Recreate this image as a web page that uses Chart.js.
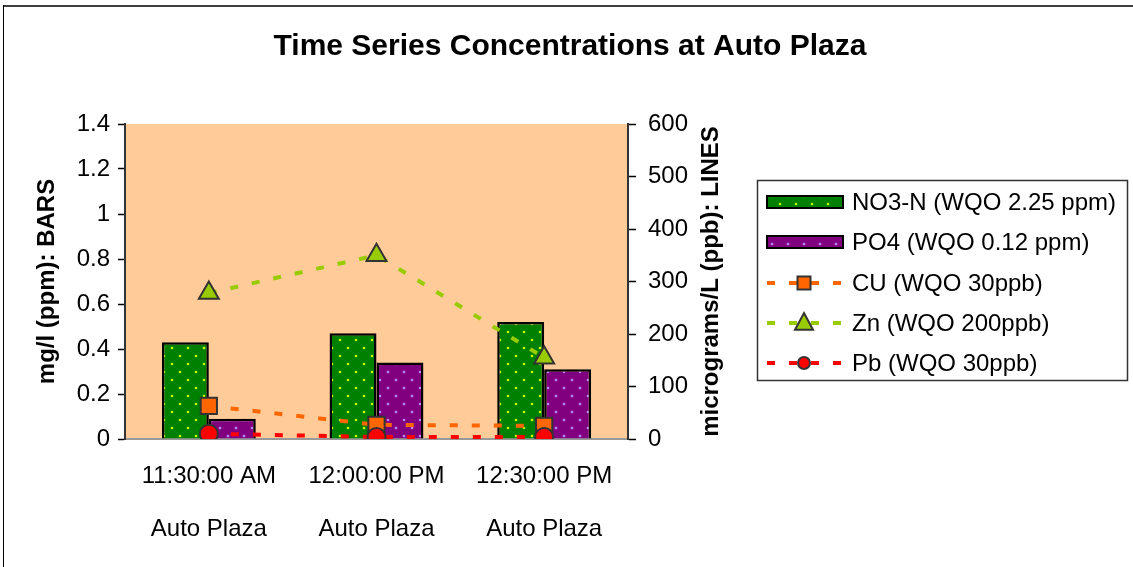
<!DOCTYPE html>
<html>
<head>
<meta charset="utf-8">
<script src="https://cdn.jsdelivr.net/npm/chart.js@4.4.1/dist/chart.umd.min.js"></script>
<style>
  body { margin: 0; background: #fff; }
  canvas { display: block; }
</style>
</head>
<body>
<canvas id="myChart" width="1133" height="567"></canvas>
<script>
var times = ['11:30:00 AM', '12:00:00 PM', '12:30:00 PM'];
var sites = ['Auto Plaza', 'Auto Plaza', 'Auto Plaza'];
var no3n = [0.43, 0.47, 0.52];
var po4 = [0.09, 0.34, 0.31];
var cu = [63, 27, 25];
var zn = [278, 350, 155];
var pb = [10, 4, 4];
var seriesNames = ['NO3-N (WQO 2.25 ppm)', 'PO4 (WQO 0.12 ppm)', 'CU (WQO 30ppb)', 'Zn (WQO 200ppb)', 'Pb (WQO 30ppb)'];
var ppmTicks = [0, 0.2, 0.4, 0.6, 0.8, 1, 1.2, 1.4];
var ppbTicks = [0, 100, 200, 300, 400, 500, 600];

var FONT = "'Liberation Sans', Arial, sans-serif";
var ctx = document.getElementById('myChart').getContext('2d');

// dotted fill like the excel pattern
function dotPattern(bg, dot) {
  var c = document.createElement('canvas');
  c.width = 16; c.height = 16;
  var g = c.getContext('2d');
  g.fillStyle = bg;
  g.fillRect(0, 0, 16, 16);
  g.fillStyle = dot;
  g.beginPath(); g.arc(4, 4, 1.3, 0, Math.PI * 2); g.fill();
  g.beginPath(); g.arc(12, 12, 1.3, 0, Math.PI * 2); g.fill();
  return ctx.createPattern(c, 'repeat');
}

var greenFill = dotPattern('#008000', '#ccff00');
var purpleFill = dotPattern('#800080', '#bb88ff');

var labels = [];
for (var i = 0; i < times.length; i++) {
  labels.push([times[i], sites[i]]);
}

function drawMarker(c, style, x, y, r, fill) {
  c.save();
  c.fillStyle = fill;
  c.strokeStyle = '#333';
  c.lineWidth = 2;
  c.beginPath();
  if (style == 'rect') {
    c.rect(x - r, y - r, 2 * r, 2 * r);
  } else if (style == 'triangle') {
    c.moveTo(x, y - r * 1.1);
    c.lineTo(x + r * 1.0, y + r * 0.75);
    c.lineTo(x - r * 1.0, y + r * 0.75);
    c.closePath();
  } else {
    c.arc(x, y, r, 0, Math.PI * 2);
  }
  c.fill();
  c.stroke();
  c.restore();
}

var decor = {
  id: 'decor',
  beforeDraw: function(chart) {
    var c = chart.ctx, a = chart.chartArea;
    c.save();
    c.fillStyle = '#ffcc99';
    c.fillRect(a.left, a.top, a.right - a.left, a.bottom - a.top);
    // outer frame (only top and left show)
    c.fillStyle = '#404040';
    c.fillRect(3, 5, 1130, 2);
    c.fillStyle = '#000';
    c.fillRect(3, 5, 1, 562);
    c.fillStyle = '#000';
    c.font = 'bold 30px ' + FONT;
    c.textAlign = 'center';
    c.textBaseline = 'middle';
    c.fillText('Time Series Concentrations at Auto Plaza', 570, 47);
    c.restore();
  },
  afterDraw: function(chart) {
    var c = chart.ctx, a = chart.chartArea;
    c.save();
    // right axis title reads bottom-up
    c.translate(711, (a.top + a.bottom) / 2);
    c.rotate(-Math.PI / 2);
    c.font = 'bold 24px ' + FONT;
    c.fillStyle = '#000';
    c.textAlign = 'center';
    c.textBaseline = 'middle';
    c.fillText('micrograms/L (ppb): LINES', 0, 0);
    c.restore();

    // legend
    c.save();
    c.strokeStyle = '#333';
    c.lineWidth = 1.5;
    c.strokeRect(757.5, 180.5, 370, 200);
    var ds = chart.data.datasets;
    var rowY = [202, 242, 283, 323, 363];
    c.font = '24px ' + FONT;
    c.textBaseline = 'middle';
    c.textAlign = 'left';
    for (var k = 0; k < ds.length; k++) {
      var y = rowY[k];
      if (ds[k].type == 'line') {
        c.save();
        c.strokeStyle = ds[k].borderColor;
        c.lineWidth = 4;
        c.setLineDash([8, 14]);
        c.beginPath();
        c.moveTo(767, y);
        c.lineTo(843, y);
        c.stroke();
        c.restore();
        var r = ds[k].pointStyle == 'triangle' ? 9 : (ds[k].pointStyle == 'rect' ? 6.5 : 6);
        drawMarker(c, ds[k].pointStyle, 804, y, r, ds[k].pointBackgroundColor);
      } else {
        c.fillStyle = ds[k].backgroundColor;
        c.fillRect(767, y - 6, 76, 12);
        c.strokeStyle = '#000';
        c.lineWidth = 2;
        c.strokeRect(767, y - 6, 76, 12);
      }
      c.fillStyle = '#000';
      c.fillText(ds[k].label, 852, y + 1);
    }
    c.restore();
  }
};

var chart = new Chart(ctx, {
  type: 'bar',
  data: {
    labels: labels,
    datasets: [
      {
        type: 'bar', label: seriesNames[0], data: no3n, yAxisID: 'y',
        backgroundColor: greenFill, borderColor: '#000', borderWidth: 2.5, order: 3
      },
      {
        type: 'bar', label: seriesNames[1], data: po4, yAxisID: 'y',
        backgroundColor: purpleFill, borderColor: '#000', borderWidth: 2.5, order: 3
      },
      {
        type: 'line', label: seriesNames[2], data: cu, yAxisID: 'y1',
        borderColor: '#ff6600', borderWidth: 4, borderDash: [8, 14], tension: 0,
        pointStyle: 'rect', pointRadius: 11.5, pointBackgroundColor: '#ff6600',
        pointBorderColor: '#333', pointBorderWidth: 2, order: 2
      },
      {
        type: 'line', label: seriesNames[3], data: zn, yAxisID: 'y1',
        borderColor: '#99cc00', borderWidth: 4, borderDash: [8, 14], tension: 0,
        pointStyle: 'triangle', pointRadius: 11.5, pointBackgroundColor: '#99cc00',
        pointBorderColor: '#333', pointBorderWidth: 2, order: 1
      },
      {
        type: 'line', label: seriesNames[4], data: pb, yAxisID: 'y1',
        borderColor: '#ff0000', borderWidth: 4, borderDash: [8, 14], tension: 0,
        pointStyle: 'circle', pointRadius: 9, pointBackgroundColor: '#ff0000',
        pointBorderColor: '#333', pointBorderWidth: 2, order: 0
      }
    ]
  },
  options: {
    responsive: false,
    animation: false,
    layout: { padding: { left: 0, right: 375, top: 124, bottom: 0 } },
    plugins: {
      legend: { display: false },
      tooltip: { enabled: false }
    },
    datasets: {
      bar: { categoryPercentage: 0.56, barPercentage: 1 }
    },
    scales: {
      x: {
        grid: { display: false },
        border: { color: '#999', width: 2 },
        ticks: {
          color: '#000', padding: 3, maxRotation: 0,
          font: { family: FONT, size: 24, lineHeight: 2.2 }
        },
        afterFit: function(s) { s.height = 128; }
      },
      y: {
        position: 'left',
        min: 0, max: ppmTicks[ppmTicks.length - 1],
        afterBuildTicks: function(s) { s.ticks = ppmTicks.map(function(v) { return { value: v }; }); },
        grid: { drawOnChartArea: false, tickLength: 7, tickColor: '#000', tickWidth: 1.5 },
        border: { color: '#333', width: 2 },
        ticks: {
          color: '#000', padding: 8,
          font: { family: FONT, size: 24 },
          callback: function(v) { return String(+v.toFixed(1)); }
        },
        title: {
          display: true, text: 'mg/l (ppm): BARS', color: '#000',
          font: { family: FONT, size: 24, weight: 'bold' },
          padding: { top: 33, bottom: 0 }
        },
        afterFit: function(s) { s.width = 125; }
      },
      y1: {
        position: 'right',
        min: 0, max: ppbTicks[ppbTicks.length - 1],
        afterBuildTicks: function(s) { s.ticks = ppbTicks.map(function(v) { return { value: v }; }); },
        grid: { drawOnChartArea: false, tickLength: 8, tickColor: '#000', tickWidth: 1.5 },
        border: { color: '#333', width: 2 },
        ticks: {
          color: '#000', padding: 12,
          font: { family: FONT, size: 24 }
        },
        afterFit: function(s) { s.width = 130; }
      }
    }
  },
  plugins: [decor]
});
</script>
</body>
</html>
